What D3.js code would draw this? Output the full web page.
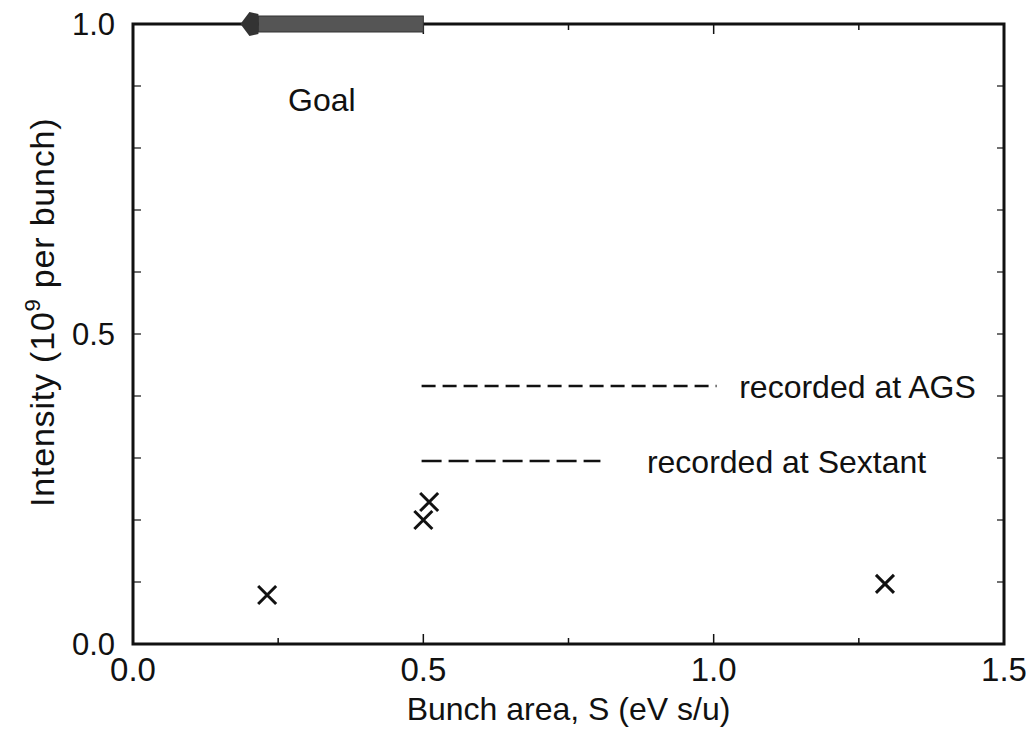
<!DOCTYPE html>
<html>
<head>
<meta charset="utf-8">
<script src="https://cdn.jsdelivr.net/npm/d3@7"></script>
<style>
  body { margin: 0; background: #fff; }
  text { font-family: "Liberation Sans", Arial, sans-serif; fill: #111; }
</style>
</head>
<body>
<div id="chart"></div>
<script>
// data
const pointsX = [0.231, 0.50, 0.51, 1.295];
const pointsY = [0.079, 0.200, 0.229, 0.097];
const goalFrom = 0.50, goalTo = 0.185, goalLevel = 1.0;
const xTicks = [0.0, 0.5, 1.0, 1.5];
const yTicks = [0.0, 0.5, 1.0];
const legendNames = ["recorded at AGS", "recorded at Sextant"];
const legendDash = ["14,7", "20,7"];

const W = 1026, H = 732;
const margin = {top: 24, right: 22, bottom: 88, left: 133};
const width = W - margin.left - margin.right,
      height = H - margin.top - margin.bottom;

const svg = d3.select("#chart").append("svg")
  .attr("width", W).attr("height", H);
const g = svg.append("g")
  .attr("transform", `translate(${margin.left}, ${margin.top})`);

const x = d3.scaleLinear().domain([0, 1.5]).range([0, width]);
const y = d3.scaleLinear().domain([0, 1]).range([height, 0]);

// ticks inside the frame, on all four sides
const minorX = d3.range(0, 1.5001, 0.25);
const minorY = d3.range(0, 1.0001, 0.1);
minorX.forEach(v => {
  const len = (Math.abs(v * 2 - Math.round(v * 2)) < 1e-6) ? 10 : 6;
  g.append("line").attr("x1", x(v)).attr("x2", x(v))
    .attr("y1", height).attr("y2", height - len).attr("stroke", "#111").attr("stroke-width", 1.5);
  g.append("line").attr("x1", x(v)).attr("x2", x(v))
    .attr("y1", 0).attr("y2", len).attr("stroke", "#111").attr("stroke-width", 1.5);
});
minorY.forEach(v => {
  g.append("line").attr("x1", 0).attr("x2", 8)
    .attr("y1", y(v)).attr("y2", y(v)).attr("stroke", "#111").attr("stroke-width", 1.2);
  g.append("line").attr("x1", width).attr("x2", width - 7)
    .attr("y1", y(v)).attr("y2", y(v)).attr("stroke", "#111").attr("stroke-width", 1.2);
});

// frame
g.append("rect").attr("x", 0).attr("y", 0)
  .attr("width", width).attr("height", height)
  .attr("fill", "none").attr("stroke", "#111").attr("stroke-width", 3);

// tick labels
g.selectAll(".xl").data(xTicks).join("text")
  .attr("x", d => x(d)).attr("y", height + 37)
  .attr("text-anchor", "middle").attr("font-size", 33)
  .text(d => d.toFixed(1));
g.selectAll(".yl").data(yTicks).join("text")
  .attr("x", -18).attr("y", d => y(d) + 11)
  .attr("text-anchor", "end").attr("font-size", 31)
  .text(d => d.toFixed(1));

// axis titles
svg.append("text")
  .attr("x", margin.left + x(0.75)).attr("y", 720)
  .attr("text-anchor", "middle").attr("font-size", 32)
  .text("Bunch area, S (eV s/u)");
const yt = svg.append("text")
  .attr("transform", `translate(54, ${margin.top + y(0.535)}) rotate(-90)`)
  .attr("text-anchor", "middle").attr("font-size", 34)
  .attr("letter-spacing", 0.8);
yt.append("tspan").text("Intensity (10");
yt.append("tspan").attr("dy", -14).attr("font-size", 22).text("9");
yt.append("tspan").attr("dy", 14).text("  per bunch)");

// goal arrow, sitting on the top frame line
const gy = y(goalLevel);
const headW = 18;
g.append("rect")
  .attr("x", x(goalTo) + headW).attr("y", gy - 8)
  .attr("width", x(goalFrom) - x(goalTo) - headW).attr("height", 16)
  .attr("fill", "#555").attr("stroke", "#333").attr("stroke-width", 1);
g.append("path")
  .attr("d", d3.line()([[x(goalTo), gy], [x(goalTo) + 9, gy - 12],
                        [x(goalTo) + headW, gy - 10], [x(goalTo) + headW, gy + 10],
                        [x(goalTo) + 9, gy + 12]]) + "Z")
  .attr("fill", "#333");
g.append("text").attr("x", x(0.267)).attr("y", y(0.86))
  .attr("font-size", 32).text("Goal");

// legend
legendNames.forEach((name, i) => {
  const ly = y(0.416) + i * 75;
  const x1 = x(0.497), x2 = i === 0 ? x(1.005) : x(0.805);
  g.append("line").attr("x1", x1).attr("x2", x2)
    .attr("y1", ly).attr("y2", ly)
    .attr("stroke", "#111").attr("stroke-width", 2.5)
    .attr("stroke-dasharray", legendDash[i]);
  g.append("text").attr("x", i === 0 ? x(1.044) : x(0.885)).attr("y", ly + 12)
    .attr("font-size", 32).text(name);
});

// data markers
const s = 9;
const pts = pointsX.map((v, i) => [v, pointsY[i]]);
g.selectAll(".pt").data(pts).join("path")
  .attr("d", d => {
    const cx = x(d[0]), cy = y(d[1]);
    return `M${cx - s},${cy - s}L${cx + s},${cy + s}M${cx - s},${cy + s}L${cx + s},${cy - s}`;
  })
  .attr("stroke", "#111").attr("stroke-width", 3).attr("fill", "none");
</script>
</body>
</html>
